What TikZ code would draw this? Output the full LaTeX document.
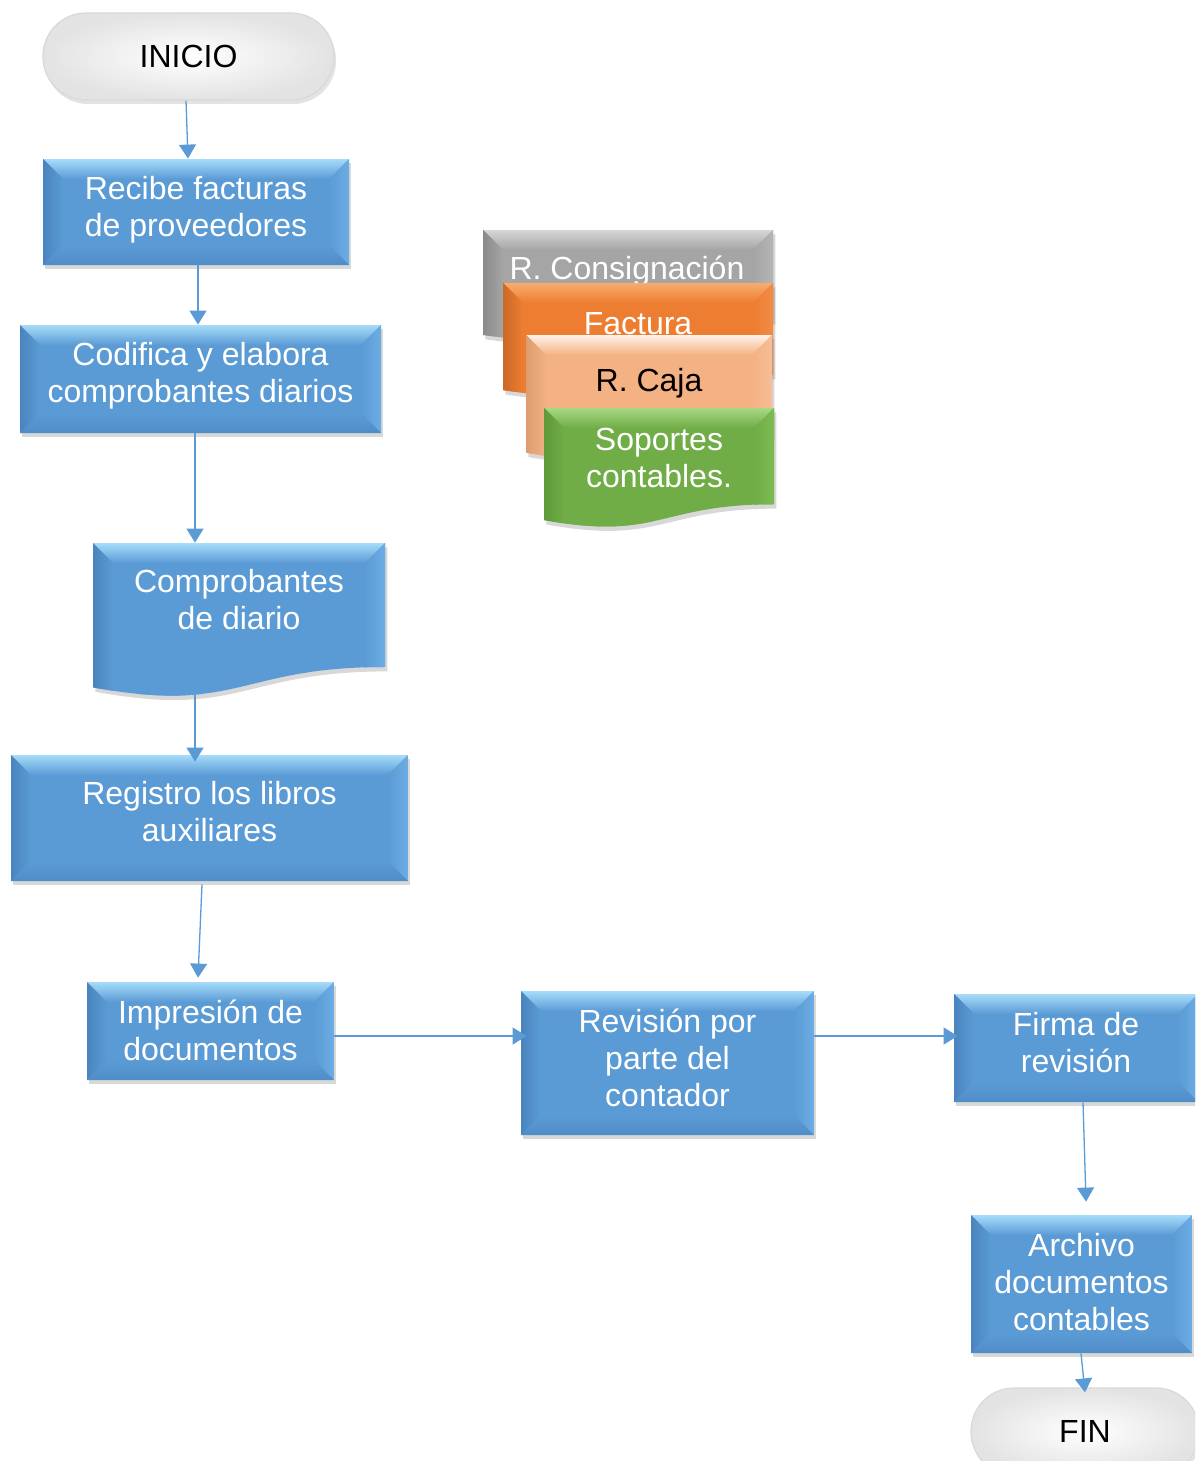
\documentclass[tikz,border=0pt]{standalone}
\usepackage{fontspec}
\setmainfont{Liberation Sans}
\usetikzlibrary{arrows.meta,shadows,calc}
\definecolor{blu}{HTML}{5B9BD5}
\definecolor{bluTop}{HTML}{A6DCFA}
\definecolor{bluL}{HTML}{4A84BE}
\definecolor{bluR}{HTML}{6CADE4}
\definecolor{bluB}{HTML}{4F8DC9}
\definecolor{gry}{HTML}{A5A5A5}
\definecolor{gryTop}{HTML}{D6D6D6}
\definecolor{gryL}{HTML}{8A8A8A}
\definecolor{gryR}{HTML}{B5B5B5}
\definecolor{org}{HTML}{ED7D31}
\definecolor{orgTop}{HTML}{F9AC6E}
\definecolor{orgL}{HTML}{CB6927}
\definecolor{orgR}{HTML}{F28C45}
\definecolor{pch}{HTML}{F4B183}
\definecolor{pchTop}{HTML}{FFF3EA}
\definecolor{pchL}{HTML}{DE9D70}
\definecolor{pchR}{HTML}{F7BE96}
\definecolor{grn}{HTML}{70AD47}
\definecolor{grnTop}{HTML}{A8D884}
\definecolor{grnL}{HTML}{5E9A39}
\definecolor{grnR}{HTML}{7DBB52}
\definecolor{arrc}{HTML}{5B9BD5}
\newcommand\bevW{10pt}
\newcommand\boxfont{\fontsize{16}{18.5}\selectfont}
\newcommand\docshape[5]{%
  \fill[#5] (#1,#2) -- (#3,#2) -- (#3,{#2+0.802*#4})
    .. controls ({(#1+#3)/2},{#2+0.802*#4}) and ({(#1+#3)/2},{#2+1.107*#4})
    .. (#1,{#2+0.934*#4}) -- cycle;}
\tikzset{
  bev/.style n args={5}{fill=#1, path picture={
    \path (path picture bounding box.north west) coordinate (bvNW)
          (path picture bounding box.north east) coordinate (bvNE)
          (path picture bounding box.south west) coordinate (bvSW)
          (path picture bounding box.south east) coordinate (bvSE);
    \shade[top color=#2, bottom color=#1] (bvNW) -- (bvNE) -- ([shift={(-\bevW,-\bevW)}]bvNE) -- ([shift={(\bevW,-\bevW)}]bvNW) -- cycle;
    \shade[left color=#3, right color=#1] (bvNW) -- ([shift={(\bevW,-\bevW)}]bvNW) -- ([shift={(\bevW,\bevW)}]bvSW) -- (bvSW) -- cycle;
    \shade[right color=#4, left color=#1] (bvNE) -- ([shift={(-\bevW,-\bevW)}]bvNE) -- ([shift={(-\bevW,\bevW)}]bvSE) -- (bvSE) -- cycle;
    \shade[bottom color=#5, top color=#1] (bvSW) -- ([shift={(\bevW,\bevW)}]bvSW) -- ([shift={(-\bevW,\bevW)}]bvSE) -- (bvSE) -- cycle;
  }},
  shadowfx/.style={drop shadow={opacity=0.3, shadow xshift=1.2pt, shadow yshift=-2.2pt}},
  bluebox/.style={rectangle, shadowfx, bev={blu}{bluTop}{bluL}{bluR}{bluB},
    text=white, font=\boxfont, align=center, inner sep=0pt},
  bluedoc/.style={shadowfx, bev={blu}{bluTop}{bluL}{bluR}{blu}},
  grydoc/.style={shadowfx, bev={gry}{gryTop}{gryL}{gryR}{gry}},
  orgdoc/.style={shadowfx, bev={org}{orgTop}{orgL}{orgR}{org}},
  pchdoc/.style={shadowfx, bev={pch}{pchTop}{pchL}{pchR}{pch}},
  grndoc/.style={shadowfx, bev={grn}{grnTop}{grnL}{grnR}{grn}},
  doctext/.style={font=\boxfont, align=center, inner sep=0pt},
  term/.style={rectangle, rounded corners=21.5pt, draw=gray!30, line width=0.6pt,
    inner color=white, outer color=gray!22,
    drop shadow={opacity=0.22, shadow xshift=1pt, shadow yshift=-2pt},
    font=\boxfont, text=black, inner sep=0pt, minimum height=43.5pt},
  arr/.style={draw=arrc, line width=0.65pt, -{Triangle[width=8.5pt,length=7pt]}}
}
\begin{document}
\begin{tikzpicture}[x=0.5pt,y=-0.5pt]
\clip (0,0) rectangle (1195,1461);
\fill[white] (0,0) rectangle (1195,1461);

% terminals
\node[term, minimum width=145.5pt] (ini) at (188.5,56.5) {INICIO};
\node[term, minimum width=114pt] (fin) at (1085,1431.5) {FIN};

% process boxes
\node[bluebox, text depth=5.4pt, minimum width=153pt, minimum height=53pt] (rec) at (196,212) {Recibe facturas\\de proveedores};
\node[bluebox, text depth=6.4pt, minimum width=180.5pt, minimum height=54pt] (cod) at (200.5,379) {Codifica y elabora\\comprobantes diarios};
\docshape{93}{543}{385}{154.6}{bluedoc}
\node[doctext, text depth=6pt, text=white, minimum width=146pt, minimum height=62pt] (comp) at (239,605) {Comprobantes\\de diario};
\node[bluebox, text depth=7pt, minimum width=198.5pt, minimum height=63pt] (reg) at (209.5,818) {Registro los libros\\auxiliares};
\node[bluebox, text depth=1pt, minimum width=123.5pt, minimum height=49pt] (imp) at (210.5,1031) {Impresión de\\documentos};
\node[bluebox, text depth=5pt, minimum width=146.5pt, minimum height=72pt] (rev) at (667.5,1063) {Revisión por\\parte del\\contador};
\node[bluebox, text depth=6pt, minimum width=122pt, minimum height=54pt] (fir) at (1076,1048) {Firma de\\revisión};
\node[bluebox, text depth=2pt, minimum width=110.5pt, minimum height=69pt] (arc) at (1081.5,1284) {Archivo\\documentos\\contables};

% stacked documents
\docshape{483}{230}{773}{112.4}{grydoc}
\node[doctext, text=white] (cons) at (627,271) {R. Consignación};
\docshape{503}{283}{773}{114.7}{orgdoc}
\node[doctext, text=white] (fact) at (638,324) {Factura};
\docshape{526}{335}{772}{126}{pchdoc}
\node[doctext, text=black] (caja) at (649,383) {R. Caja};
\docshape{544}{408}{774}{120}{grndoc}
\node[doctext, text=white] (sop) at (659,458) {Soportes\\contables.};

% connectors
\draw[arr] ([xshift=-1.25pt]ini.south) -- ([xshift=-4pt]rec.north);
\draw[arr] ([xshift=1pt]rec.south) -- ([xshift=-1.25pt]cod.north);
\draw[arr] ([xshift=-2.75pt]cod.south) -- ([xshift=-22pt]comp.north);
\draw[arr] ([xshift=-22pt,yshift=-14pt]comp.south) -- ([xshift=-7.25pt,yshift=-3.5pt]reg.north);
\draw[arr] ([xshift=-3.75pt,yshift=-1.5pt]reg.south) -- ([xshift=-6.25pt,yshift=2pt]imp.north);
\draw[arr] ([yshift=-2.5pt]imp.east) -- ([xshift=3pt,yshift=13.5pt]rev.west);
\draw[arr] ([yshift=13.5pt]rev.east) -- ([xshift=2pt,yshift=6pt]fir.west);
\draw[arr] ([xshift=3.5pt]fir.south) -- ([xshift=2.25pt,yshift=6.5pt]arc.north);
\draw[arr] ([xshift=-0.25pt]arc.south) -- ([yshift=-2.5pt]fin.north);
\end{tikzpicture}
\end{document}
